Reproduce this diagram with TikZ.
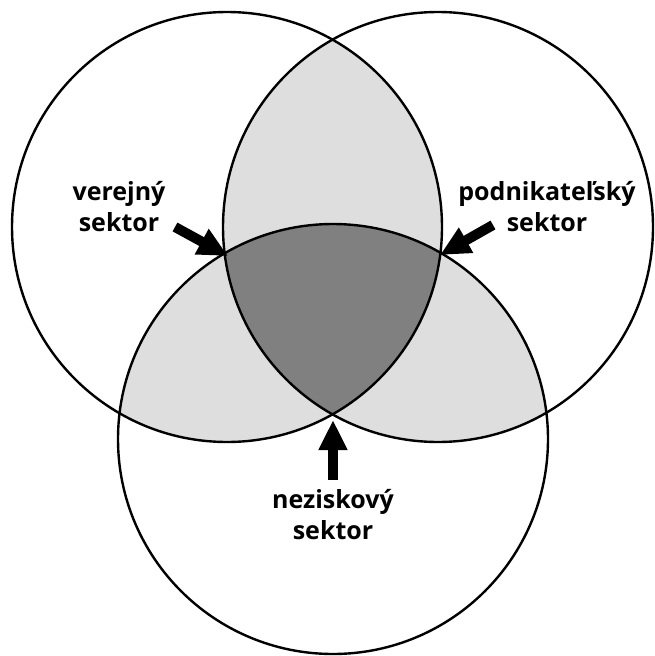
\documentclass[tikz,border=0pt]{standalone}
\usepackage{fontspec}
\setmainfont{Open Sans}
\usetikzlibrary{arrows.meta}
\definecolor{lightg}{HTML}{DEDEDE}
\definecolor{darkg}{HTML}{808080}
\tikzset{
  ring/.style={draw=black, line width=2.4pt},
  lab/.style={font=\bfseries\fontsize{25}{31}\selectfont, align=center, inner sep=0pt},
  bigarrow/.style={line width=10pt, -{Triangle[length=30pt,width=27pt]}}
}
\begin{document}
\begin{tikzpicture}[x=1pt,y=-1pt]
\useasboundingbox (0,0) rectangle (655,656);
\coordinate (L) at (227,227);
\coordinate (R) at (438,227);
\coordinate (B) at (333,439);
\def\rr{215pt}
% pairwise intersections
\begin{scope}
  \clip (L) circle[radius=\rr];
  \fill[lightg] (R) circle[radius=\rr];
  \fill[lightg] (B) circle[radius=\rr];
\end{scope}
\begin{scope}
  \clip (R) circle[radius=\rr];
  \fill[lightg] (B) circle[radius=\rr];
\end{scope}
\begin{scope}
  \clip (L) circle[radius=\rr];
  \clip (R) circle[radius=\rr];
  \fill[darkg] (B) circle[radius=\rr];
\end{scope}
\draw[ring] (L) circle[radius=\rr];
\draw[ring] (R) circle[radius=\rr];
\draw[ring] (B) circle[radius=\rr];
% labels
\node[lab] (verejny) at (119,207) {verejný\\sektor};
\node[lab] (podnik) at (547,207) {podnikateľský\\sektor};
\node[lab] (nezisk) at (333,515) {neziskový\\sektor};
% arrows
\coordinate (a1s) at (175,227);
\coordinate (a1e) at (228,256);
\coordinate (a2s) at (493,225);
\coordinate (a2e) at (440,255);
\coordinate (a3s) at (333,480);
\coordinate (a3e) at (333,420);
\draw[bigarrow] (a1s) -- (a1e);
\draw[bigarrow] (a2s) -- (a2e);
\draw[bigarrow] (a3s) -- (a3e);
\end{tikzpicture}
\end{document}
